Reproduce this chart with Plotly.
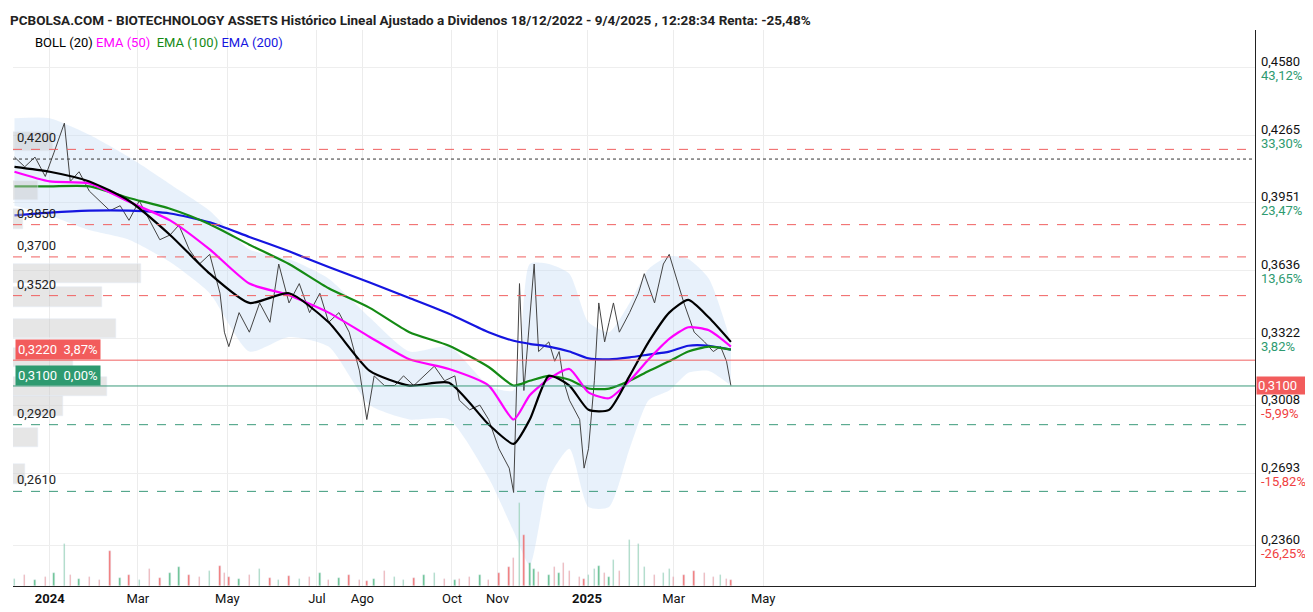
import plotly.graph_objects as go

price_dates = ["2023-12-08","2023-12-15","2023-12-22","2023-12-29","2024-01-04","2024-01-11","2024-01-15","2024-01-21","2024-01-28","2024-02-04","2024-02-11","2024-02-18","2024-02-24","2024-03-02","2024-03-09","2024-03-16","2024-03-23","2024-03-29","2024-04-05","2024-04-12","2024-04-19","2024-04-26","2024-04-29","2024-05-02","2024-05-09","2024-05-16","2024-05-23","2024-05-30","2024-06-05","2024-06-12","2024-06-19","2024-06-26","2024-07-03","2024-07-09","2024-07-16","2024-07-23","2024-07-30","2024-08-04","2024-08-09","2024-08-16","2024-08-23","2024-08-29","2024-09-05","2024-09-12","2024-09-19","2024-09-26","2024-10-03","2024-10-06","2024-10-13","2024-10-20","2024-10-26","2024-11-02","2024-11-09","2024-11-12","2024-11-16","2024-11-19","2024-11-23","2024-11-26","2024-11-29","2024-12-06","2024-12-10","2024-12-13","2024-12-16","2024-12-20","2024-12-27","2024-12-30","2025-01-02","2025-01-06","2025-01-09","2025-01-13","2025-01-16","2025-01-19","2025-01-23","2025-01-30","2025-02-05","2025-02-09","2025-02-16","2025-02-22","2025-02-26","2025-03-01","2025-03-08","2025-03-15","2025-03-22","2025-03-28","2025-04-02","2025-04-06","2025-04-09"]
price = [0.4164,0.4119,0.4164,0.4074,0.4187,0.4322,0.4051,0.4096,0.4006,0.3961,0.3915,0.3938,0.3870,0.3961,0.3870,0.3780,0.3802,0.3848,0.3735,0.3667,0.3712,0.3531,0.3350,0.3283,0.3441,0.3350,0.3486,0.3396,0.3667,0.3486,0.3576,0.3441,0.3531,0.3396,0.3441,0.3350,0.3170,0.2944,0.3147,0.3102,0.3102,0.3147,0.3102,0.3147,0.3192,0.3124,0.3147,0.3034,0.2989,0.3011,0.2944,0.2808,0.2718,0.2605,0.3576,0.3079,0.3396,0.3667,0.3260,0.3305,0.3215,0.3260,0.3124,0.3034,0.2944,0.2718,0.2808,0.3124,0.3486,0.3305,0.3396,0.3486,0.3350,0.3441,0.3531,0.3622,0.3486,0.3667,0.3712,0.3644,0.3486,0.3350,0.3305,0.3260,0.3283,0.3215,0.3102]
volume = [8,12,6,10,14,45,12,8,10,7,38,9,12,6,18,9,14,20,12,10,16,22,14,10,8,12,18,9,6,11,8,10,14,7,9,12,6,5,8,16,10,7,9,12,14,8,6,8,10,12,7,14,20,30,90,55,25,18,15,12,20,14,25,16,10,8,12,18,22,14,10,28,16,50,45,20,12,14,18,10,12,16,14,10,12,8,6]

ind_dates = ["2023-12-08","2024-01-01","2024-01-28","2024-02-24","2024-03-23","2024-04-19","2024-05-16","2024-06-12","2024-07-09","2024-08-06","2024-09-02","2024-09-29","2024-10-26","2024-11-12","2024-11-23","2024-12-06","2024-12-20","2025-01-02","2025-01-16","2025-01-30","2025-02-12","2025-02-26","2025-03-11","2025-03-25","2025-04-09"]
boll_mid = [0.4119,0.4096,0.4051,0.3961,0.3802,0.3622,0.3486,0.3531,0.3396,0.3170,0.3102,0.3115,0.2921,0.2831,0.2944,0.3147,0.3102,0.2989,0.2989,0.3147,0.3305,0.3441,0.3500,0.3418,0.3305]
boll_up = [0.4345,0.4345,0.4268,0.4164,0.4038,0.3915,0.3735,0.3690,0.3599,0.3418,0.3260,0.3283,0.3102,0.3079,0.3667,0.3667,0.3622,0.3396,0.3350,0.3486,0.3644,0.3703,0.3690,0.3599,0.3305]
boll_low = [0.3938,0.3893,0.3825,0.3780,0.3676,0.3531,0.3260,0.3328,0.3283,0.3011,0.2944,0.2944,0.2672,0.2424,0.2266,0.2672,0.2808,0.2537,0.2537,0.2808,0.3034,0.3079,0.3161,0.3170,0.3102]
ema50 = [0.4096,0.4051,0.4042,0.3956,0.3870,0.3735,0.3576,0.3522,0.3441,0.3328,0.3224,0.3179,0.3102,0.2944,0.3057,0.3133,0.3179,0.3070,0.3043,0.3124,0.3224,0.3319,0.3373,0.3359,0.3283]
ema100 = [0.4028,0.4028,0.4028,0.3974,0.3924,0.3852,0.3757,0.3667,0.3554,0.3463,0.3350,0.3287,0.3188,0.3102,0.3124,0.3147,0.3129,0.3088,0.3088,0.3124,0.3170,0.3215,0.3260,0.3283,0.3269]
ema200 = [0.3893,0.3906,0.3915,0.3915,0.3902,0.3861,0.3793,0.3726,0.3653,0.3581,0.3509,0.3436,0.3350,0.3310,0.3296,0.3283,0.3260,0.3228,0.3224,0.3233,0.3246,0.3260,0.3287,0.3287,0.3269]

profile_levels = [0.4236,0.4010,0.3877,0.3622,0.3513,0.3368,0.3233,0.3097,0.3007,0.2860,0.2690]
profile_widths = [32,20,8,103,72,83,48,76,40,20,10]

yticks = [0.4580,0.4265,0.3951,0.3636,0.3322,0.3008,0.2693,0.2360]
ypct = ["43,12%","33,30%","23,47%","13,65%","3,82%","-5,99%","-15,82%","-26,25%"]
xtick_vals = ["2024-01-01","2024-03-01","2024-05-01","2024-07-01","2024-08-01","2024-10-01","2024-11-01","2025-01-01","2025-03-01","2025-05-01"]
xtick_text = ["<b>2024</b>","Mar","May","Jul","Ago","Oct","Nov","<b>2025</b>","Mar","May"]
red_levels = [0.4200,0.3850,0.3700,0.3520]
green_levels = [0.2920,0.2610]

fig = go.Figure()
fig.add_trace(go.Bar(y=profile_levels, x=profile_widths, orientation="h", xaxis="x2", yaxis="y",
                     marker_color="rgba(200,200,200,0.45)", width=0.009, hoverinfo="skip"))
vcol = ["#3cb371" if i == 0 or price[i] >= price[i-1] else "#f05050" for i in range(len(price))]
fig.add_trace(go.Bar(x=price_dates, y=volume, yaxis="y2", marker_color=vcol, width=86400000*1.0, opacity=0.8))
fig.add_trace(go.Scatter(x=ind_dates, y=boll_up, mode="lines", line=dict(width=0, shape="spline", smoothing=0.6), hoverinfo="skip"))
fig.add_trace(go.Scatter(x=ind_dates, y=boll_low, mode="lines", line=dict(width=0, shape="spline", smoothing=0.6),
                         fill="tonexty", fillcolor="rgba(195,218,245,0.38)", hoverinfo="skip"))
fig.add_trace(go.Scatter(x=price_dates, y=price, mode="lines", line=dict(color="#444", width=1)))
for ser, col in [(ema200, "#1515e0"), (ema100, "#148a14"), (ema50, "#ff00ff"), (boll_mid, "#000")]:
    fig.add_trace(go.Scatter(x=ind_dates, y=ser, mode="lines", line=dict(color=col, width=2.2, shape="spline", smoothing=0.6)))

for lv in red_levels:
    fig.add_hline(y=lv, line=dict(color="#f06060", width=1, dash="dash"))
for lv in green_levels:
    fig.add_hline(y=lv, line=dict(color="#3a9a7a", width=1, dash="dash"))
fig.add_hline(y=0.4155, line=dict(color="#333", width=1, dash="dot"))
fig.add_hline(y=0.3220, line=dict(color="#f06060", width=1))
fig.add_hline(y=0.3100, line=dict(color="#3a9a7a", width=1))

ann = []
for lv in red_levels + green_levels:
    ann.append(dict(x=0.002, y=lv, xref="paper", yref="y", text=f"{lv:.4f}".replace(".", ","),
                    showarrow=False, xanchor="left", yanchor="bottom", yshift=2, font=dict(size=13, color="#222")))
ann.append(dict(x=0.002, y=0.3220, xref="paper", yref="y", text="0,3220  3,87%", showarrow=False,
                xanchor="left", yanchor="bottom", bgcolor="#f25c5c", font=dict(size=13, color="white"), borderpad=2))
ann.append(dict(x=0.002, y=0.3100, xref="paper", yref="y", text="0,3100  0,00%", showarrow=False,
                xanchor="left", yanchor="bottom", bgcolor="#2e9a70", font=dict(size=13, color="white"), borderpad=2))
for v, p in zip(yticks, ypct):
    ann.append(dict(x=1.003, y=v, xref="paper", yref="y", text=f"{v:.4f}".replace(".", ","), showarrow=False,
                    xanchor="left", yanchor="middle", yshift=6, font=dict(size=13, color="#111")))
    ann.append(dict(x=1.003, y=v, xref="paper", yref="y", text=p, showarrow=False, xanchor="left",
                    yanchor="middle", yshift=-8, font=dict(size=13, color="#2e9a70" if not p.startswith("-") else "#f04040")))
ann.append(dict(x=1.001, y=0.3100, xref="paper", yref="y", text="0,3100  ", showarrow=False, xanchor="left",
                yanchor="middle", bgcolor="#f25c5c", font=dict(size=13, color="white")))
ann.append(dict(x=-0.004, y=1.0, xref="paper", yref="paper", yanchor="bottom", xanchor="left", showarrow=False, yshift=0,
                text="<b>PCBOLSA.COM - BIOTECHNOLOGY ASSETS Histórico Lineal Ajustado a Dividenos 18/12/2022 - 9/4/2025 , 12:28:34 Renta: -25,48%</b>",
                font=dict(size=13.5, color="#222")))
ann.append(dict(x=0.016, y=0.995, xref="paper", yref="paper", yanchor="top", xanchor="left", showarrow=False,
                text="BOLL (20) <span style='color:#ff00ff'>EMA (50)</span>  <span style='color:#148a14'>EMA (100)</span> <span style='color:#1515e0'>EMA (200)</span>",
                font=dict(size=13, color="#000")))

fig.update_layout(
    width=1313, height=612, margin=dict(l=5, r=66, t=22, b=34),
    plot_bgcolor="white", paper_bgcolor="white", showlegend=False, bargap=0,
    font=dict(family="Roboto, Arial, sans-serif"),
    annotations=ann,
    xaxis=dict(range=["2023-12-07", "2026-04-01"], tickvals=xtick_vals, ticktext=xtick_text, showgrid=True,
               gridcolor="#ececec", showline=True, linecolor="#222", tickfont=dict(size=13, color="#111"),
               ticks="", zeroline=False),
    xaxis2=dict(range=[0, 1000], overlaying="x", visible=False),
    yaxis=dict(range=[0.2170, 0.4755], tickvals=yticks, showticklabels=False, gridcolor="#eeeeee",
               side="right", showline=True, linecolor="#222", zeroline=False),
    yaxis2=dict(range=[0, 600], overlaying="y", visible=False),
)
fig.write_html("out.html")
